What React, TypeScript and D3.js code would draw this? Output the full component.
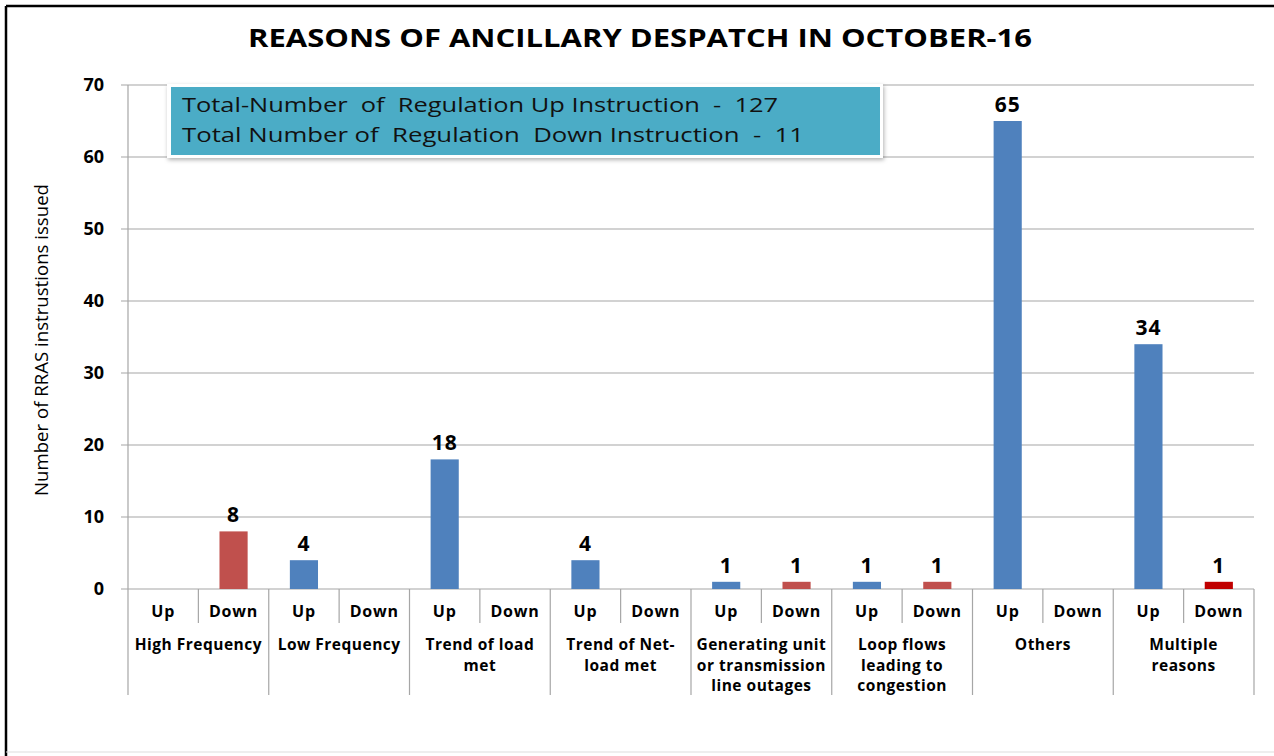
import React from 'react';
import * as d3 from 'd3';

const groups = [
  ['High Frequency'],
  ['Low Frequency'],
  ['Trend of load', 'met'],
  ['Trend of Net-', 'load met'],
  ['Generating unit', 'or transmission', 'line outages'],
  ['Loop flows', 'leading to', 'congestion'],
  ['Others'],
  ['Multiple', 'reasons'],
];
const subs = ['Up', 'Down'];
const upValues = [0, 4, 18, 4, 1, 1, 65, 34];
const downValues = [8, 0, 0, 0, 1, 1, 0, 1];
const yTicks = [0, 10, 20, 30, 40, 50, 60, 70];
const infoLines = [
  'Total-Number  of  Regulation Up Instruction  -  127',
  'Total Number of  Regulation  Down Instruction  -  11',
];
const infoWidths = [596, 622];

const W = 1274;
const H = 756;
const FONT = '"Open Sans", Lato, sans-serif';

export default function App() {
  const left = 128;
  const right = 1254;
  const top = 85;
  const bottom = 589;

  const x0 = d3.scaleBand<number>().domain(d3.range(groups.length)).range([left, right]);
  const x1 = d3.scaleBand<string>().domain(subs).range([0, x0.bandwidth()]);
  const y = d3.scaleLinear().domain([0, 70]).range([bottom, top]);
  const barW = x1.bandwidth() * 0.4;

  const bars: { g: number; s: string; v: number; color: string }[] = [];
  groups.forEach((_, i) => {
    bars.push({ g: i, s: 'Up', v: upValues[i], color: '#4F81BD' });
    bars.push({ g: i, s: 'Down', v: downValues[i], color: i === 7 ? '#C00000' : '#C0504D' });
  });

  return (
    <svg width={W} height={H} style={{ position: 'absolute', left: 0, top: 0 }} fontFamily={FONT}>
      <defs>
        <filter id="shadow" x="-5%" y="-20%" width="110%" height="150%">
          <feDropShadow dx="1" dy="2" stdDeviation="2" floodColor="#000" floodOpacity="0.3" />
        </filter>
      </defs>
      <rect x={0} y={0} width={W} height={H} fill="#fff" />
      {/* frame */}
      <line x1={6} x2={W} y1={6} y2={6} stroke="#000" strokeWidth={2.5} />
      <line x1={6} x2={6} y1={6} y2={H} stroke="#000" strokeWidth={2.5} />
      <line x1={6} x2={W} y1={752} y2={752} stroke="#ddd" strokeWidth={1} />

      <text
        x={640}
        y={47}
        textAnchor="middle"
        fontSize={25}
        fontWeight="bold"
        fill="#000"
        textLength={784}
        lengthAdjust="spacingAndGlyphs"
      >
        REASONS OF ANCILLARY DESPATCH IN OCTOBER-16
      </text>

      {/* grid + y ticks */}
      {yTicks.map((t) => (
        <g key={t}>
          <line x1={left - 7} x2={right} y1={y(t)} y2={y(t)} stroke="#A6A6A6" strokeWidth={1.2} />
          <text x={104} y={y(t) + 6} textAnchor="end" fontSize={18} fontWeight="bold" fill="#000">
            {t}
          </text>
        </g>
      ))}
      <line x1={left} x2={left} y1={top} y2={bottom} stroke="#A6A6A6" strokeWidth={1.2} />

      <text
        transform={`translate(48,${(top + bottom) / 2 + 3}) rotate(-90)`}
        textAnchor="middle"
        fontSize={18}
        fill="#000"
        textLength={312}
        lengthAdjust="spacingAndGlyphs"
      >
        Number of RRAS instrustions issued
      </text>

      {/* bars */}
      {bars.map((b) => {
        const cx = (x0(b.g) as number) + (x1(b.s) as number) + x1.bandwidth() / 2;
        return (
          <g key={`${b.g}-${b.s}`}>
            {b.v > 0 && (
              <rect x={cx - barW / 2} y={y(b.v)} width={barW} height={bottom - y(b.v)} fill={b.color} />
            )}
            {b.v > 0 && (
              <text
                x={cx}
                y={y(b.v) - 9}
                textAnchor="middle"
                fontSize={21}
                fontWeight="bold"
                letterSpacing={1}
                fill="#000"
              >
                {b.v}
              </text>
            )}
          </g>
        );
      })}

      {/* category axis */}
      {groups.map((lines, i) => {
        const gx = x0(i) as number;
        const bw = x0.bandwidth();
        return (
          <g key={i}>
            <line x1={gx} x2={gx} y1={bottom} y2={695} stroke="#A6A6A6" strokeWidth={1.2} />
            <line x1={gx + bw / 2} x2={gx + bw / 2} y1={bottom} y2={623} stroke="#A6A6A6" strokeWidth={1.2} />
            {subs.map((s) => (
              <text
                key={s}
                x={gx + (x1(s) as number) + x1.bandwidth() / 2}
                y={617}
                textAnchor="middle"
                fontSize={16}
                fontWeight="bold"
                letterSpacing={0.8}
                fill="#000"
              >
                {s}
              </text>
            ))}
            {lines.map((l, k) => (
              <text
                key={k}
                x={gx + bw / 2}
                y={650 + k * 20.5}
                textAnchor="middle"
                fontSize={15.5}
                fontWeight="bold"
                letterSpacing={0.5}
                fill="#000"
              >
                {l}
              </text>
            ))}
          </g>
        );
      })}
      <line x1={right} x2={right} y1={bottom} y2={695} stroke="#A6A6A6" strokeWidth={1.2} />

      {/* info box */}
      <rect x={167} y={84} width={716} height={74} fill="#fff" filter="url(#shadow)" />
      <rect x={171} y={87} width={709} height={68} fill="#4BACC6" />
      {infoLines.map((l, k) => (
        <text
          key={k}
          x={182}
          y={112 + k * 30}
          fontSize={20}
          fill="#111"
          textLength={infoWidths[k]}
          lengthAdjust="spacingAndGlyphs"
          style={{ whiteSpace: 'pre' }}
        >
          {l}
        </text>
      ))}
    </svg>
  );
}
